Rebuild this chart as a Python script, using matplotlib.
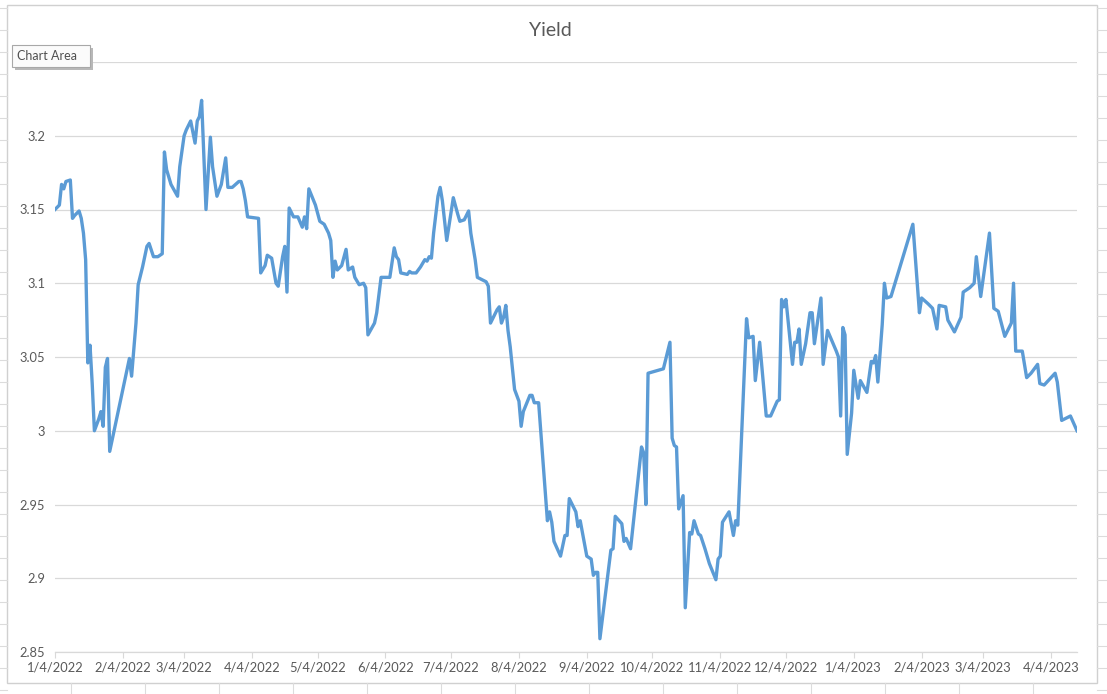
import numpy as np
import pandas as pd
import matplotlib
matplotlib.use("Agg")
import matplotlib.pyplot as plt
from matplotlib.lines import Line2D
from matplotlib.patches import Rectangle

plt.rcParams['font.family'] = ['Lato', 'DejaVu Sans']

title = "Yield"
start_date = "2022-01-04"

# day offsets from 1/4/2022
days = [
    0, 2, 3, 4, 5, 7, 8, 9, 11, 12, 13, 14, 15, 16, 17, 18, 20, 21, 22, 23, 24, 25,
    34, 35, 37, 38, 40, 42, 43, 45, 47, 49, 50, 51, 53, 56, 57, 59, 60, 62, 64, 65, 66, 67,
    69, 71, 72, 74, 76, 78, 79, 81, 84,
    85, 86, 87, 88, 93, 94, 96, 97, 99, 101, 102, 104, 105, 106, 107, 109, 111, 113, 114,
    115, 116, 119, 121, 123, 125, 126, 127, 128, 129, 131, 133, 134, 136, 137, 139, 141,
    142, 143, 146, 147, 149, 153, 155, 156, 157, 158, 161, 162, 163, 165, 167, 169, 170,
    171, 172, 173, 175, 176, 177, 179, 182, 184, 185, 187, 189, 190, 192, 193, 197, 198,
    199, 202, 203, 204, 205, 206, 207, 208, 210, 212, 213, 214, 217, 218, 219, 221,
    225, 226, 227, 228, 231, 233, 234, 235, 238, 239, 240, 243, 245, 246, 247, 248, 249,
    254, 255, 256, 259, 260, 261, 263, 268, 269, 270, 271, 278, 281, 282, 283, 284, 285,
    287, 288, 290, 291, 292, 294, 295, 297, 299, 302, 303, 304, 305, 308, 310, 311, 312,
    316, 317, 319, 320, 322, 325, 327, 330, 331, 332, 333, 334, 337, 338, 339, 340, 341,
    343, 345, 346, 347, 350, 351, 353, 357, 358, 359, 360, 361, 362, 364, 365, 367, 368,
    371, 373, 374, 375, 376, 378, 379, 380, 382,
    392, 395, 396, 399, 401, 403, 404, 407, 408, 411, 414, 415, 418, 420, 421, 423, 427,
    429, 431, 434, 437, 438, 439, 442, 444, 446, 449, 450, 452, 457, 458, 460, 464, 467,
]

yields = [
    3.150, 3.153, 3.167, 3.164, 3.169, 3.170, 3.144, 3.146, 3.149, 3.144, 3.134, 3.116, 3.046, 3.058, 3.032, 3.000, 3.008, 3.013, 3.003, 3.043, 3.049, 2.986,
    3.049, 3.037, 3.073, 3.099, 3.111, 3.125, 3.127, 3.118, 3.118, 3.120, 3.189, 3.177, 3.167, 3.159, 3.179, 3.200, 3.204, 3.210, 3.195, 3.210, 3.213, 3.224,
    3.150, 3.199, 3.179, 3.159, 3.167, 3.185, 3.165, 3.165, 3.169,
    3.169, 3.164, 3.156, 3.145, 3.144, 3.107, 3.112, 3.119, 3.117, 3.100, 3.098, 3.118, 3.125, 3.094, 3.151, 3.145, 3.145, 3.138, 3.145,
    3.137, 3.164, 3.153, 3.142, 3.140, 3.134, 3.129, 3.104, 3.115, 3.109, 3.112, 3.123, 3.109, 3.111, 3.104, 3.099, 3.100,
    3.097, 3.065, 3.073, 3.080, 3.104, 3.104, 3.124, 3.118, 3.116, 3.107, 3.106, 3.108, 3.107, 3.107, 3.111, 3.116, 3.115,
    3.118, 3.117, 3.134, 3.159, 3.165, 3.156, 3.129, 3.158, 3.147, 3.142, 3.143, 3.149, 3.134, 3.116, 3.104, 3.101, 3.098,
    3.073, 3.082, 3.084, 3.073, 3.077, 3.085, 3.068, 3.057, 3.028, 3.020, 3.003, 3.013, 3.024, 3.024, 3.019, 3.019,
    2.939, 2.945, 2.938, 2.925, 2.915, 2.929, 2.929, 2.954, 2.945, 2.935, 2.939, 2.915, 2.913, 2.902, 2.904, 2.904, 2.859,
    2.919, 2.920, 2.942, 2.937, 2.925, 2.927, 2.920, 2.989, 2.985, 2.950, 3.039, 3.042, 3.060, 2.995, 2.990, 2.989, 2.947,
    2.956, 2.880, 2.931, 2.930, 2.939, 2.930, 2.929, 2.920, 2.910, 2.899, 2.913, 2.915, 2.938, 2.945, 2.929, 2.939, 2.936,
    3.076, 3.063, 3.064, 3.034, 3.060, 3.010, 3.010, 3.020, 3.021, 3.089, 3.084, 3.089, 3.045, 3.060, 3.060, 3.069, 3.045,
    3.059, 3.080, 3.080, 3.059, 3.090, 3.045, 3.068, 3.054, 3.050, 3.010, 3.070, 3.065, 2.984, 3.012, 3.041, 3.022, 3.034,
    3.026, 3.047, 3.046, 3.051, 3.033, 3.072, 3.100, 3.090, 3.091,
    3.140, 3.080, 3.090, 3.086, 3.083, 3.069, 3.085, 3.084, 3.075, 3.067, 3.077, 3.094, 3.097, 3.100, 3.118, 3.091, 3.134,
    3.083, 3.081, 3.064, 3.073, 3.100, 3.054, 3.054, 3.036, 3.039, 3.045, 3.032, 3.031, 3.039, 3.033, 3.007, 3.010, 3.000,
]

y_ticks = [2.85, 2.9, 2.95, 3.0, 3.05, 3.1, 3.15, 3.2, 3.25]
# the 3.25 label sits under the "Chart Area" tooltip in the screenshot
y_tick_labels = ["2.85", "2.9", "2.95", "3", "3.05", "3.1", "3.15", "3.2", ""]
x_tick_dates = pd.date_range("2022-01-04", "2023-04-04", freq=pd.DateOffset(months=1))

W, H = 1107, 694
fig = plt.figure(figsize=(W / 100, H / 100), dpi=100)
fig.patch.set_facecolor("white")

# spreadsheet cell lines around the chart object
cell = "#dcdcdc"
for yy in range(8, H, 22):
    fig.add_artist(Line2D([0, 7 / W], [1 - yy / H] * 2, color=cell, lw=0.8))
    fig.add_artist(Line2D([1097 / W, 1], [1 - yy / H] * 2, color=cell, lw=0.8))
for xx in range(71, 1100, 74):
    fig.add_artist(Line2D([xx / W] * 2, [0, 1 - 683 / H], color=cell, lw=0.8))
fig.add_artist(Rectangle((7 / W, 1 - 683 / H), 1090 / W, 678 / H, fill=False,
                         ec="#d0d0d0", lw=1.0))

x0, x1, yt, yb = 55, 1077, 62, 652
ax = fig.add_axes([x0 / W, 1 - yb / H, (x1 - x0) / W, (yb - yt) / H])

dates = np.datetime64(start_date) + np.array(days).astype("timedelta64[D]")
ax.plot(dates, yields, color="#5B9BD5", lw=2.4, solid_joinstyle="round", zorder=3)

ax.set_xlim(np.datetime64(start_date), dates[-1])
ax.set_ylim(2.85, 3.25)
ax.set_yticks(y_ticks)
ax.set_yticklabels(y_tick_labels)
ax.set_xticks(x_tick_dates)
ax.set_xticklabels([f"{d.month}/{d.day}/{d.year}" for d in x_tick_dates])

ax.grid(axis="y", color="#d9d9d9", lw=0.9)
ax.set_axisbelow(True)
for s in ["top", "right", "left"]:
    ax.spines[s].set_visible(False)
ax.spines["bottom"].set_color("#d9d9d9")
ax.spines["bottom"].set_linewidth(0.9)
ax.tick_params(axis="y", length=0, labelsize=9.3, labelcolor="#595959", pad=7)
ax.tick_params(axis="x", length=4, color="#d9d9d9", labelsize=9.3, labelcolor="#595959", pad=3)

fig.text(550 / W, 1 - 31 / H, title, ha="center", va="center", fontsize=14, color="#595959")

# "Chart Area" tooltip with a small drop shadow
bx, by, bw, bh = 12, 45, 78, 22
fig.add_artist(Rectangle(((bx + 3) / W, 1 - (by + bh + 3) / H), bw / W, bh / H,
                         fc="#b8b8b8", ec="none", zorder=9))
fig.add_artist(Rectangle((bx / W, 1 - (by + bh) / H), bw / W, bh / H,
                         fc="#fbfbfb", ec="#a8a8a8", lw=0.8, zorder=10))
fig.text((bx + 5) / W, 1 - (by + bh / 2) / H, "Chart Area", ha="left", va="center",
         fontsize=9, color="#505050", zorder=11)

fig.savefig("out.png", dpi=100)
